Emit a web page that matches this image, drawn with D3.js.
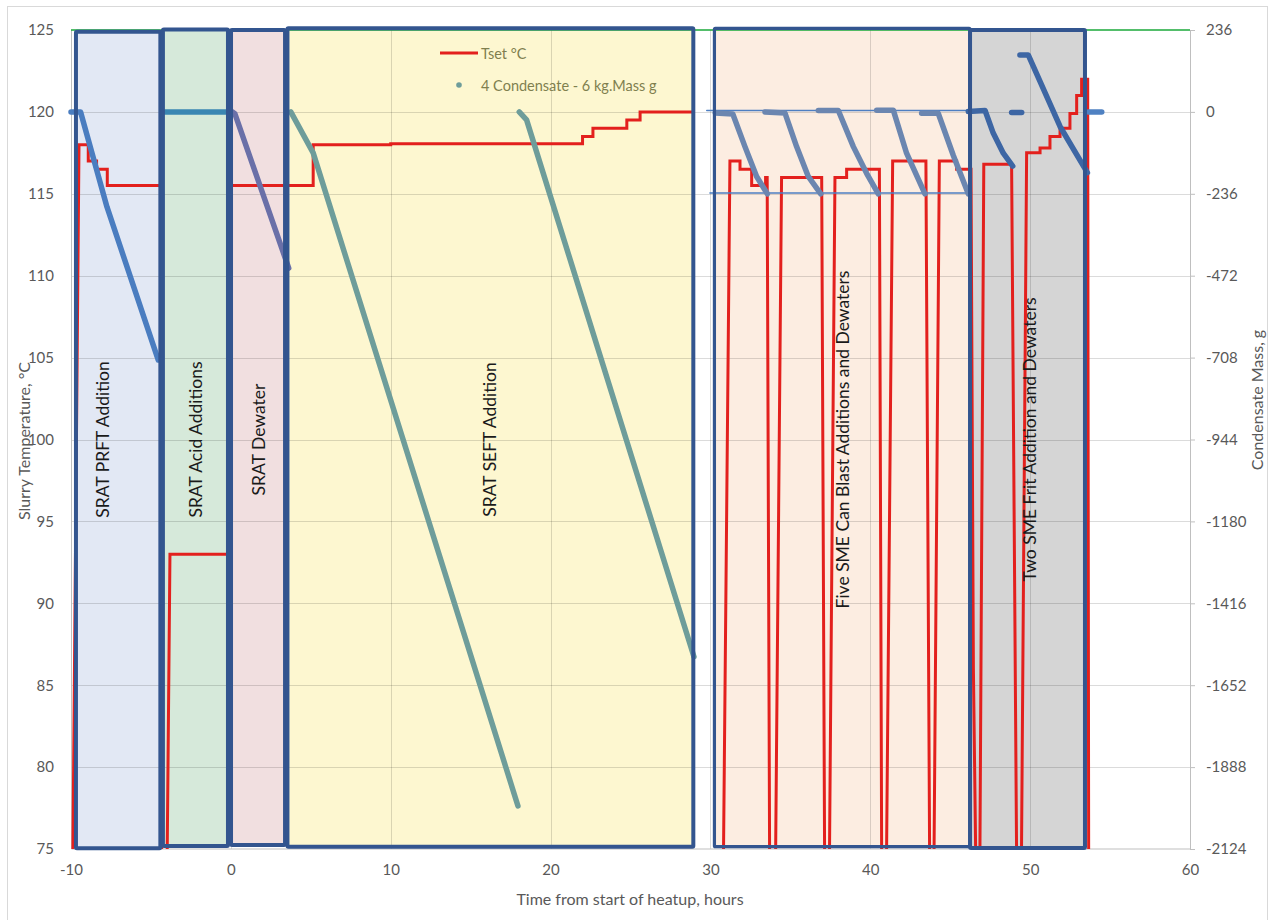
<!DOCTYPE html>
<html>
<head>
<meta charset="utf-8">
<script src="https://cdn.jsdelivr.net/npm/d3@7"></script>
<style>
  body { margin: 0; background: #fff; }
  svg { display: block; font-family: Lato, "Open Sans", sans-serif; }
</style>
</head>
<body>
<div id="grafico"></div>
<script>
// Tset, °C  (hours, °C) - null breaks the line
const tset = [
  [-9.88, 75], [-9.5, 118], [-8.92, 118], [-8.92, 117], [-8.4, 117], [-8.4, 116.5], [-7.73, 116.5], [-7.73, 115.5], [-4.3, 115.5], [-4.33, 75], null,
  [-3.98, 75], [-3.81, 93], [-0.12, 93], [0.04, 115.5], [5.15, 115.5], [5.15, 118], [10, 118], [10, 118.05], [22.0, 118.05], [22.0, 118.5],
  [22.65, 118.5], [22.65, 119], [24.77, 119], [24.77, 119.5], [25.6, 119.5], [25.6, 120], [28.9, 120], null,
  [30.82, 75], [31.22, 117], [31.85, 117], [31.85, 116.5], [32.58, 116.5], [32.58, 115.5], [33.45, 115.5], [33.45, 116], [33.55, 116], [33.70, 75], null,
  [34.08, 75], [34.45, 116], [36.96, 116], [37.14, 75], null,
  [37.45, 75], [37.79, 116], [38.52, 116], [38.52, 116.5], [40.57, 116.5], [40.71, 75], null,
  [41.02, 75], [41.40, 117], [43.48, 117], [43.71, 75], null,
  [43.99, 75], [44.32, 117], [45.4, 117], [45.4, 116.5], [46.3, 116.5], [46.45, 86], [46.59, 75], null,
  [46.86, 75], [47.1, 116.8], [48.84, 116.8], [49.15, 75], null,
  [49.46, 75], [49.78, 117.5], [50.62, 117.5], [50.62, 117.8], [51.24, 117.8], [51.24, 118.5], [51.87, 118.5], [51.87, 119],
  [52.49, 119], [52.49, 119.9], [52.91, 119.9], [52.91, 121], [53.22, 121], [53.22, 122], [53.6, 122], [53.66, 75]
];

// top green line, °C
const limite = [[-10, 125], [60, 125]];

// 4 Condensate - 6 kg.Mass g  (hours, g), one array per stage
const condPRFT = [[-10, 0], [-9.4, 0], [-7.75, -274], [-4.54, -715]];
const condAcido = [[-4.25, 0], [-0.15, 0]];
const condDewater = [[0.1, 0], [0.25, -5], [3.62, -450]];
const condSEFT = [
  [[3.75, 0], [5.15, -118], [17.96, -2000]],
  [[18.04, 0], [18.5, -23], [28.97, -1570]]
];
const condSME = [
  [[30.3, -3], [31.4, -6], [32.16, -100], [32.89, -186], [33.56, -236]],
  [[33.41, 0], [34.66, -3], [35.39, -100], [36.12, -186], [36.9, -236]],
  [[36.75, 4], [38.0, 4], [38.94, -100], [39.77, -177], [40.5, -236]],
  [[40.4, 5], [41.44, 5], [42.27, -119], [43.42, -236]],
  [[43.21, -4], [44.25, -4], [45.19, -125], [46.13, -236]]
];
const refSME = [
  [[29.77, 4], [46.03, 4]],
  [[29.97, -234], [46.34, -234]]
];
const condFrit = [
  [[46.13, 1], [47.18, 4], [47.69, -61], [48.32, -119], [48.91, -156]],
  [[48.84, -2], [49.47, -2]],
  [[49.36, 164], [49.88, 164], [51.87, -42], [53.58, -175]]
];
const condFim = [[53.64, 0], [54.48, 0]];

// process stages (hours, °C)
const etapas = ["SRAT PRFT Addition", "SRAT Acid Additions", "SRAT Dewater", "SRAT SEFT Addition",
  "Five SME Can Blast Additions and Dewaters", "Two SME Frit Addition and Dewaters"];
const etapaInicio = [-9.69, -4.25, 0.01, 3.54, 30.25, 46.24];
const etapaFim = [-4.41, -0.18, 3.39, 28.93, 46.24, 53.43];
const etapaTopo = [124.9, 125.03, 125, 125.1, 125.1, 125];
const etapaBase = [75.05, 75.18, 75.24, 75.14, 75.14, 75.06];
const etapaCor = ["#e2e8f4", "#d6e9da", "#f1dfe0", "#fdf7d0", "#fcede1", "#d5d5d5"];
const etapaTextoX = [-8.0, -2.24, 1.76, 16.21, 38.29, 49.93];

// axes
const ticksX = [-10, 0, 10, 20, 30, 40, 50, 60];
const ticksT = [75, 80, 85, 90, 95, 100, 105, 110, 115, 120, 125];
const ticksM = [-2124, -1888, -1652, -1416, -1180, -944, -708, -472, -236, 0, 236];

const largura = 1273, altura = 920;
const x = d3.scaleLinear([-10, 60], [71, 1190]);
const y = d3.scaleLinear([75, 125], [849, 30]);
const y2 = d3.scaleLinear([-2124, 236], [849, 30]);

const svg = d3.select("#grafico").append("svg")
    .attr("width", largura)
    .attr("height", altura);

// chart area frame
svg.append("rect")
    .attr("x", 7.5).attr("y", 6.5)
    .attr("width", 1260).attr("height", 930)
    .attr("fill", "#fff")
    .attr("stroke", "#d9d9d9");

// stage fills
svg.append("g").selectAll("rect")
  .data(etapas)
  .join("rect")
    .attr("x", (_, i) => x(etapaInicio[i]))
    .attr("y", (_, i) => y(etapaTopo[i]))
    .attr("width", (_, i) => x(etapaFim[i]) - x(etapaInicio[i]))
    .attr("height", (_, i) => y(etapaBase[i]) - y(etapaTopo[i]))
    .attr("fill", (_, i) => etapaCor[i]);

// gridlines
const grade = svg.append("g").attr("stroke", "rgba(0,0,0,0.14)").attr("stroke-width", 1);
grade.selectAll(".gh")
  .data(ticksT.filter(t => t > 75 && t < 125))
  .join("line")
    .attr("x1", x(-10)).attr("x2", x(60))
    .attr("y1", d => Math.round(y(d)) + 0.5).attr("y2", d => Math.round(y(d)) + 0.5);
grade.selectAll(".gv")
  .data(ticksX.filter(t => t > -10 && t < 60))
  .join("line")
    .attr("x1", d => Math.round(x(d)) + 0.5).attr("x2", d => Math.round(x(d)) + 0.5)
    .attr("y1", y(125)).attr("y2", y(75));

// axis lines
svg.append("g").attr("stroke", "#bfbfbf").attr("stroke-width", 1)
  .selectAll("line")
  .data([[x(-10), y(125), x(-10), y(75)], [x(-10), y(75), x(60), y(75)], [x(60), y(125), x(60), y(75)]])
  .join("line")
    .attr("x1", d => Math.round(d[0]) + 0.5).attr("y1", d => d[1])
    .attr("x2", d => Math.round(d[2]) + 0.5).attr("y2", d => d[3]);

// axis labels (plain hyphen, no thousands separator)
const simples = d => String(d);
const eixoT = svg.append("g")
    .attr("transform", `translate(${x(-10)},0)`)
    .call(d3.axisLeft(y).tickValues(ticksT).tickFormat(simples).tickSize(0).tickPadding(17));
const eixoM = svg.append("g")
    .attr("transform", `translate(${x(60)},0)`)
    .call(d3.axisRight(y2).tickValues(ticksM).tickFormat(simples).tickSize(5).tickPadding(11));
const eixoX = svg.append("g")
    .attr("transform", `translate(0,${y(75)})`)
    .call(d3.axisBottom(x).tickValues(ticksX).tickFormat(simples).tickSize(0).tickPadding(15));
[eixoT, eixoM, eixoX].forEach(g => {
  g.select(".domain").remove();
  g.selectAll("line").attr("stroke", "#bfbfbf");
  g.selectAll("text").attr("fill", "#595959").attr("font-size", 15).attr("font-family", "Lato, sans-serif");
});

svg.append("text")
    .attr("transform", `translate(23,441) rotate(-90)`)
    .attr("text-anchor", "middle").attr("dominant-baseline", "central")
    .attr("fill", "#595959").attr("font-size", 16)
    .text("Slurry Temperature, °C");
svg.append("text")
    .attr("transform", `translate(1256,400) rotate(-90)`)
    .attr("text-anchor", "middle").attr("dominant-baseline", "central")
    .attr("fill", "#595959").attr("font-size", 16)
    .text("Condensate Mass, g");
svg.append("text")
    .attr("x", 630).attr("y", 898)
    .attr("text-anchor", "middle").attr("dominant-baseline", "central")
    .attr("fill", "#595959").attr("font-size", 16)
    .text("Time from start of heatup, hours");

// series
const linhaT = d3.line().defined(d => d !== null).x(d => x(d[0])).y(d => y(d[1]));
const linhaM = d3.line().x(d => x(d[0])).y(d => y2(d[1]));

svg.append("path")
    .attr("d", linhaT(limite))
    .attr("fill", "none").attr("stroke", "#1aa83a").attr("stroke-width", 1.5);

function condensado(dados, cor, espessura = 5.5) {
  svg.append("path")
      .attr("d", linhaM(dados))
      .attr("fill", "none")
      .attr("stroke", cor)
      .attr("stroke-width", espessura)
      .attr("stroke-linecap", "round")
      .attr("stroke-linejoin", "round");
}

svg.append("path")
    .attr("d", linhaT(tset))
    .attr("fill", "none").attr("stroke", "#e3201d").attr("stroke-width", 3)
    .attr("stroke-linejoin", "miter");

condensado(condPRFT, "#4a7dc0");
condensado(condAcido, "#3a86b2");
condensado(condDewater, "#6a70a8");
condSEFT.forEach(d => condensado(d, "#6e9d9a"));
refSME.forEach(d => condensado(d, "#4e7fc2", 1.5));
condSME.forEach(d => condensado(d, "#6b86b0"));
condFrit.forEach(d => condensado(d, "#3d66a4"));
condensado(condFim, "#4f81c2");

// stage borders
svg.append("g").selectAll("rect")
  .data(etapas)
  .join("rect")
    .attr("x", (_, i) => x(etapaInicio[i]))
    .attr("y", (_, i) => y(etapaTopo[i]))
    .attr("width", (_, i) => x(etapaFim[i]) - x(etapaInicio[i]))
    .attr("height", (_, i) => y(etapaBase[i]) - y(etapaTopo[i]))
    .attr("fill", "none")
    .attr("stroke", "#33558f")
    .attr("stroke-width", (_, i) => i === 4 ? 3.2 : 4)
    .attr("rx", 1);

// stage labels
svg.append("g").selectAll("text")
  .data(etapas)
  .join("text")
    .attr("transform", (_, i) => `translate(${x(etapaTextoX[i])},${y(100)}) rotate(-90)`)
    .attr("text-anchor", "middle")
    .attr("dominant-baseline", "central")
    .attr("fill", "#1a1a1a")
    .attr("font-size", 17.5)
    .text(d => d);

// legend
const legenda = svg.append("g").attr("font-size", 14.5).attr("fill", "#7f7f4f");
legenda.append("line")
    .attr("x1", 440).attr("x2", 478).attr("y1", 53).attr("y2", 53)
    .attr("stroke", "#e3201d").attr("stroke-width", 3);
legenda.append("text").attr("x", 481).attr("y", 53).attr("dominant-baseline", "central").text("Tset °C");
legenda.append("circle").attr("cx", 459).attr("cy", 85).attr("r", 2.8).attr("fill", "#6e9d9a");
legenda.append("text").attr("x", 481).attr("y", 85).attr("dominant-baseline", "central").text("4 Condensate - 6 kg.Mass g");
</script>
</body>
</html>
